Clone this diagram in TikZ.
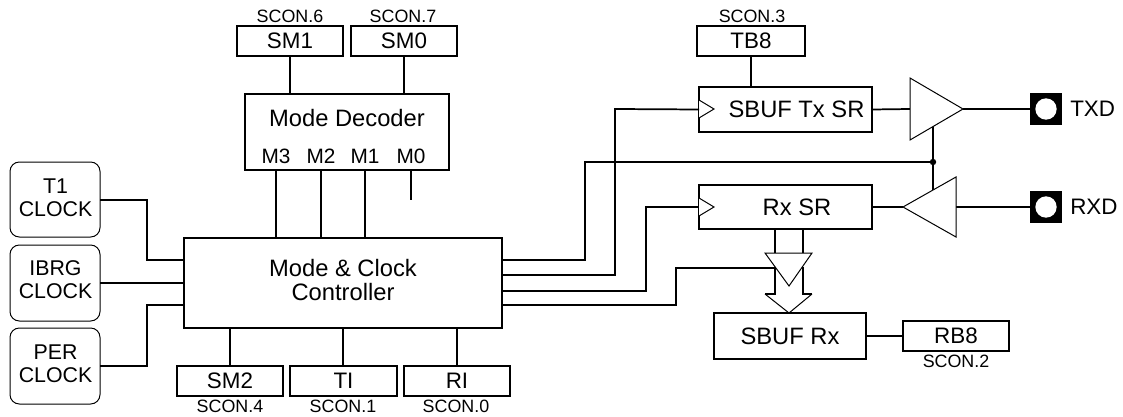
\documentclass[tikz,border=0pt]{standalone}
\usepackage{fontspec}
\setmainfont{Liberation Sans}
\newcommand\bx[7][boxn]{\node[#1,minimum width={(#5-#3)*0.75pt},minimum height={(#6-#4)*0.75pt}] (#2) at ({(#3+#5)/2},{(#4+#6)/2}) {#7};}
\tikzset{
  boxn/.style={draw,line width=1.3pt,inner sep=0pt,outer sep=0pt,font=\fontsize{16.8}{18}\selectfont,align=center},
  clk/.style={boxn,rounded corners=7pt,line width=.75pt},
  clktxt/.style={inner sep=0pt,align=center,font=\fontsize{16}{17.3}\selectfont},
  wire/.style={line width=1.3pt,line join=miter},
  thin/.style={line width=.75pt,line join=miter,fill=white},
  lbl/.style={inner sep=0pt,font=\fontsize{17.8}{18}\selectfont},
  mlbl/.style={inner sep=0pt,font=\fontsize{15.6}{17}\selectfont},
  pin/.style={inner sep=0pt,font=\fontsize{16.8}{18}\selectfont},
  scon/.style={inner sep=0pt,font=\fontsize{13.4}{15}\selectfont},
}
\begin{document}
\begin{tikzpicture}[x=0.75pt,y=-0.75pt]
\useasboundingbox (0,0) rectangle (1123,417);
% top registers
\bx{smone}{237}{26}{343}{56}{SM1}
\bx{smzero}{351}{26}{457}{56}{SM0}
\bx{tbe}{697}{26}{805}{56}{TB8}
\node[scon] (s6) at (290,16) {SCON.6};
\node[scon] (s7) at (403,16) {SCON.7};
\node[scon] (s3) at (752,16) {SCON.3};
% decoder
\bx{dec}{245}{94}{449}{170}{}
\node[lbl] (dect) at (347,118) {Mode Decoder};
\node[mlbl] (m3) at (276,156) {M3};
\node[mlbl] (m2) at (321,156) {M2};
\node[mlbl] (m1) at (365,156) {M1};
\node[mlbl] (m0) at (411,156) {M0};
% main
\bx{main}{184}{238}{502}{328}{}
\node[lbl] (maint1) at (343,268) {Mode \& Clock};
\node[lbl] (maint2) at (343,292) {Controller};
% clocks
\bx[clk]{tclk}{10}{162}{100}{237}{}
\bx[clk]{iclk}{10}{245}{100}{321}{}
\bx[clk]{pclk}{10}{328}{100}{404}{}
\node[clktxt] (tclkt) at (55.5,197.5) {T1\\CLOCK};
\node[clktxt] (iclkt) at (55.5,280) {IBRG\\CLOCK};
\node[clktxt] (pclkt) at (55.5,363.5) {PER\\CLOCK};
% bottom registers
\bx{smtwo}{177}{366}{283}{396}{SM2}
\bx{ti}{290}{366}{397}{396}{TI}
\bx{ri}{404}{366}{510}{396}{RI}
\node[scon] (s4) at (230,406) {SCON.4};
\node[scon] (s1) at (343,406) {SCON.1};
\node[scon] (s0) at (456,406) {SCON.0};
% shift registers
\bx{tx}{699}{87}{872}{132}{}
\node[lbl] (txt) at (796.5,109) {SBUF Tx SR};
\bx{rx}{699}{185}{872}{229}{}
\node[lbl] (rxt) at (797,207) {Rx SR};
\bx[boxn,font=\fontsize{17.8}{18}\selectfont]{sb}{714}{313}{866}{359}{SBUF Rx}
\bx{rbe}{903}{321}{1009}{351}{RB8}
\node[scon] (s2) at (956,361) {SCON.2};
% clock marks
\draw[thin] (699,100) -- (714,109) -- (699,118);
\draw[thin] (699,198) -- (714,207) -- (699,216);
% pads
\node[fill=black,minimum size=24pt,inner sep=0pt,outer sep=0pt] (tp) at (1046,109) {};
\node[fill=white,circle,minimum size=16pt,inner sep=0pt] at (tp) {};
\node[fill=black,minimum size=24pt,inner sep=0pt,outer sep=0pt] (rp) at (1046,207) {};
\node[fill=white,circle,minimum size=16pt,inner sep=0pt] at (rp) {};
\node[pin,anchor=west] (txdl) at (1070,109) {TXD};
\node[pin,anchor=west] (rxdl) at (1070,207) {RXD};
% coordinates
\coordinate (txin) at (910,109);
\coordinate (txout) at (963,109);
\coordinate (rxout) at (903,207);
\coordinate (rxin) at (956,207);
\coordinate (jn) at (933,162);
\coordinate (en1) at (933,126);
\coordinate (en2) at (933,190);
% wires
\draw[wire] (smone.south -| 290,0) -- (dec.north -| 290,0);
\draw[wire] (smzero.south -| 404,0) -- (dec.north -| 404,0);
\draw[wire] (tbe.south) -- (tbe.south |- tx.north);
\draw[wire] (m3 |- dec.south) -- (m3 |- main.north);
\draw[wire] (m2 |- dec.south) -- (m2 |- main.north);
\draw[wire] (m1 |- dec.south) -- (m1 |- main.north);
\draw[wire] (m0 |- dec.south) -- (411,200);
\draw[wire] (tclk.east |- 0,200) -| (147,260) -- (main.west |- 0,260);
\draw[wire] (iclk.east |- 0,283) -- (main.west |- 0,283);
\draw[wire] (pclk.east |- 0,366) -| (147,305) -- (main.west |- 0,305);
\draw[wire] (smtwo.north -| 230,0) -- (main.south -| 230,0);
\draw[wire] (ti.north -| 343,0) -- (main.south -| 343,0);
\draw[wire] (ri.north -| 457,0) -- (main.south -| 457,0);
\draw[wire] (main.east |- 0,260) -| (585,162) -- (jn);
\draw[wire] (main.east |- 0,275) -| (615,109) -- (tx.west);
\draw[wire] (main.east |- 0,291) -| (646,207) -- (rx.west);
\draw[wire] (main.east |- 0,305) -| (676,268) -- (776,268);
\draw[wire] (tx.east) -- (txin);
\draw[wire] (txout) -- (tp.west);
\draw[wire] (rx.east) -- (rxout);
\draw[wire] (rp.west) -- (rxin);
\draw[wire] (en1) -- (en2);
\fill (jn) circle (3.2);
\draw[wire] (sb.east |- rbe) -- (rbe.west);
% bus through 3-state
\draw[wire] (775,229) -- (775,253);
\draw[wire] (803,229) -- (803,253);
% drivers
\draw[thin] (txin |- 0,78) -- (txout) -- (txin |- 0,140) -- cycle;
\draw[thin] (rxin |- 0,177) -- (rxout) -- (rxin |- 0,237) -- cycle;
\draw[thin] (765,253) -- (812,253) -- (789,286) -- cycle;
\draw[wire] (775,267) -- (775,294) -- (765,294);
\draw[wire] (803,267) -- (803,294) -- (812,294);
\draw[thin,fill=none] (765,294) -- (789,313) -- (812,294);
\end{tikzpicture}
\end{document}
